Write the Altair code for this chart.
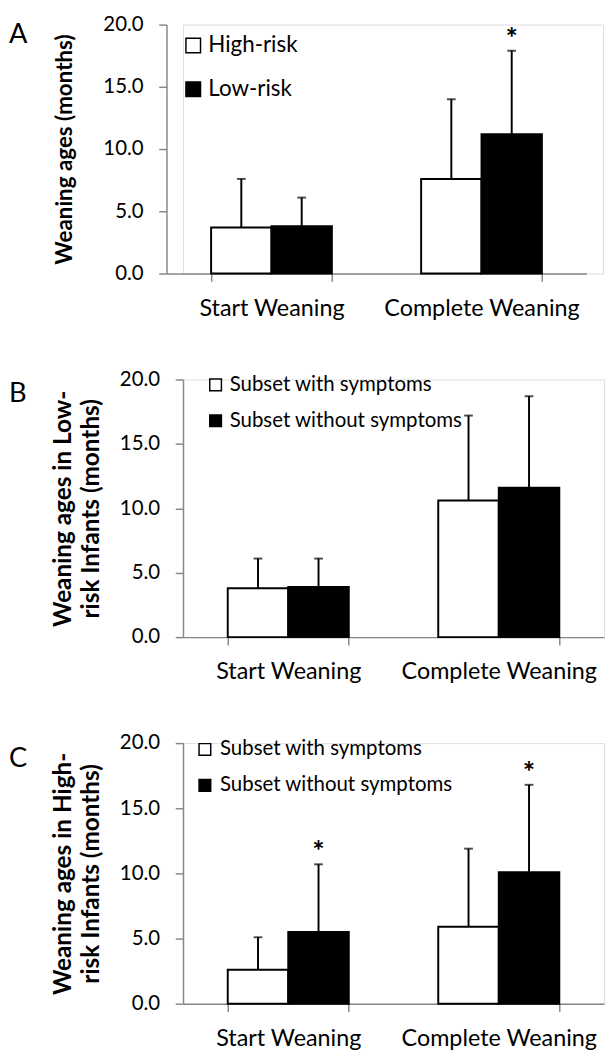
import altair as alt
import pandas as pd

categories = ["Start Weaning", "Complete Weaning"]
y_ticks = [0, 5, 10, 15, 20]

# Panel A
a_groups = ["High-risk", "Low-risk"]
a_high_mean = [3.7, 7.6]
a_high_sd = [3.9, 6.4]
a_low_mean = [3.8, 11.2]
a_low_sd = [2.3, 6.7]
a_high_sig = ["", ""]
a_low_sig = ["", "*"]

# Panel B (low-risk infants)
sym_groups = ["Subset with symptoms", "Subset without symptoms"]
b_with_mean = [3.8, 10.6]
b_with_sd = [2.3, 6.6]
b_without_mean = [3.9, 11.6]
b_without_sd = [2.2, 7.1]
b_with_sig = ["", ""]
b_without_sig = ["", ""]

# Panel C (high-risk infants)
c_with_mean = [2.6, 5.9]
c_with_sd = [2.5, 6.0]
c_without_mean = [5.5, 10.1]
c_without_sd = [5.2, 6.7]
c_with_sig = ["", ""]
c_without_sig = ["*", "*"]

FONT = "Lato"
AXIS_GRAY = "#868686"
LETTER_X = -179


def make_df(groups, means, sds, sigs):
    rows = []
    for g, m_list, s_list, sig_list in zip(groups, means, sds, sigs):
        for c, m, s, sg in zip(categories, m_list, s_list, sig_list):
            rows.append({"category": c, "group": g, "mean": m,
                         "upper": round(m + s, 2), "sig": sg})
    return pd.DataFrame(rows)


def panel(df, groups, letter, title, width, height, shift, letter_y,
          legend_x, legend_y, legend_font, legend_sym, legend_row_pad,
          legend_offset, title_size, title_pad, title_lh):
    x_enc = alt.X("category:N", sort=categories,
                  scale=alt.Scale(paddingInner=0.425, paddingOuter=0.2125,
                                  range=[-shift, width - shift]),
                  axis=alt.Axis(title=None, labelAngle=0, tickBand="extent",
                                labelFontSize=24, labelFont=FONT, labelColor="black",
                                labelLimit=600, labelPadding=16, tickSize=8,
                                tickColor=AXIS_GRAY, tickWidth=1.5,
                                domainColor=AXIS_GRAY, domainWidth=1.5))
    xo_enc = alt.XOffset("group:N", sort=groups,
                         scale=alt.Scale(paddingInner=0, paddingOuter=0))
    y_axis = alt.Axis(values=y_ticks, format=".1f", grid=False, tickSize=8,
                      offset=shift, tickColor=AXIS_GRAY, tickWidth=1.5,
                      domainColor=AXIS_GRAY, domainWidth=1.5, labelFontSize=21,
                      labelFont=FONT, labelColor="black", labelPadding=16,
                      title=title, titleFont=FONT, titleFontSize=title_size,
                      titleFontWeight="bold", titleColor="black",
                      titlePadding=title_pad, titleLineHeight=title_lh)

    def y_enc(field):
        return alt.Y(field + ":Q", scale=alt.Scale(domain=[0, 20]), axis=y_axis)

    base = alt.Chart(df)
    bars = base.mark_bar(stroke="black", strokeWidth=2).encode(
        x=x_enc, xOffset=xo_enc, y=y_enc("mean"),
        fill=alt.Fill("group:N", sort=groups,
                      scale=alt.Scale(domain=groups, range=["white", "black"]),
                      legend=alt.Legend(title=None, orient="none",
                                        legendX=legend_x - shift, legendY=legend_y,
                                        symbolType="square", symbolSize=legend_sym,
                                        symbolStrokeColor="black", symbolStrokeWidth=1.5,
                                        labelFont=FONT, labelFontSize=legend_font,
                                        labelColor="black", labelLimit=600,
                                        rowPadding=legend_row_pad,
                                        labelOffset=legend_offset, padding=0)))
    err = base.mark_rule(color="black", strokeWidth=2).encode(
        x=x_enc, xOffset=xo_enc, y=y_enc("mean"), y2="upper:Q")
    caps = base.mark_tick(color="black", thickness=2, size=9).encode(
        x=x_enc, xOffset=xo_enc, y=y_enc("upper"))
    stars = base.mark_text(baseline="alphabetic", dy=-3, fontSize=30, font=FONT,
                           fontWeight="bold", color="black").encode(
        x=x_enc, xOffset=xo_enc, y=y_enc("upper"), text="sig:N")
    lab = alt.Chart(pd.DataFrame({"letter": [letter]})).mark_text(
        align="left", baseline="alphabetic", fontSize=28, font=FONT, color="black"
    ).encode(x=alt.value(LETTER_X), y=alt.value(letter_y), text="letter:N")
    return alt.layer(bars, err, caps, stars, lab).properties(width=width, height=height)


df_a = make_df(a_groups, [a_high_mean, a_low_mean], [a_high_sd, a_low_sd],
               [a_high_sig, a_low_sig])
df_b = make_df(sym_groups, [b_with_mean, b_without_mean], [b_with_sd, b_without_sd],
               [b_with_sig, b_without_sig])
df_c = make_df(sym_groups, [c_with_mean, c_without_mean], [c_with_sd, c_without_sd],
               [c_with_sig, c_without_sig])

pa = panel(df_a, a_groups, "A", "Weaning ages (months)", 432, 256, 17, 19,
           16, 10, 23, 225, 21, 4, 23, 27, 27)
pb = panel(df_b, sym_groups, "B", ["Weaning ages in Low-", "risk Infants (months)"],
           433, 265, 0, 23, 23, -5, 21, 144, 15, 4, 25, 16, 29)
pc = panel(df_c, sym_groups, "C", ["Weaning ages in High-", "risk Infants (months)"],
           433, 268, 0, 25, 12, -4, 21, 144, 15, 5, 25, 16, 29)

chart = alt.concat(pa, pb, pc, columns=1, spacing=48).resolve_scale(
    fill="independent", x="independent", y="independent", xOffset="independent"
).properties(
    padding={"top": -10, "left": 0, "right": 0, "bottom": 0}
).configure_view(stroke=None).configure(background="white")

chart.save("out.html", embed_options={"renderer": "svg", "actions": False})
